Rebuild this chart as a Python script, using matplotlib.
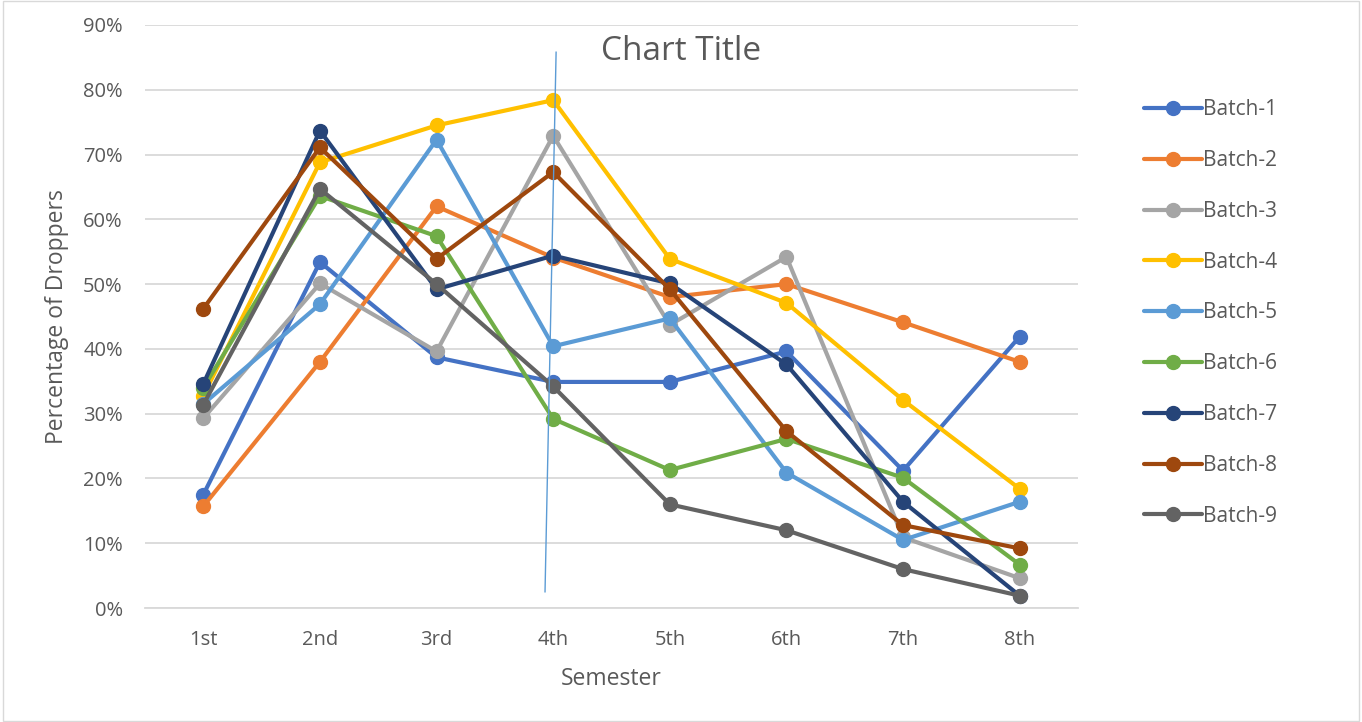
import matplotlib.pyplot as plt
from matplotlib.patches import Rectangle

plt.rcParams['font.family'] = ['Open Sans', 'DejaVu Sans']

semesters = ['1st', '2nd', '3rd', '4th', '5th', '6th', '7th', '8th']

# drop-out percentage per semester, one list per batch
batch_1 = [17.5, 53.4, 38.7, 34.9, 34.9, 39.6, 21.2, 41.9]
batch_2 = [15.7, 38.0, 62.0, 54.1, 48.0, 50.0, 44.1, 38.0]
batch_3 = [29.3, 50.1, 39.6, 72.9, 43.7, 54.2, 10.9, 4.6]
batch_4 = [32.8, 68.8, 74.5, 78.4, 53.9, 47.1, 32.1, 18.4]
batch_5 = [31.5, 46.9, 72.3, 40.4, 44.7, 20.9, 10.5, 16.4]
batch_6 = [34.0, 63.6, 57.4, 29.2, 21.3, 26.1, 20.1, 6.7]
batch_7 = [34.6, 73.7, 49.2, 54.4, 50.1, 37.6, 16.4, 1.9]
batch_8 = [46.2, 71.1, 53.9, 67.3, 49.2, 27.3, 12.8, 9.2]
batch_9 = [31.4, 64.7, 50.0, 34.2, 16.0, 12.0, 6.0, 1.9]

series = [batch_1, batch_2, batch_3, batch_4, batch_5,
          batch_6, batch_7, batch_8, batch_9]
labels = ['Batch-%d' % (i + 1) for i in range(len(series))]
colors = ['#4472C4', '#ED7D31', '#A5A5A5', '#FFC000', '#5B9BD5',
          '#70AD47', '#264478', '#9E480E', '#636363']

text_color = '#595959'

fig = plt.figure(figsize=(13.62, 7.22), dpi=100)
ax = fig.add_axes([145 / 1362, 1 - 608 / 722, (1078 - 145) / 1362, (608 - 25) / 722])

x = list(range(1, len(semesters) + 1))
for vals, lab, col in zip(series, labels, colors):
    ax.plot(x, vals, color=col, linewidth=3, marker='o', markersize=10,
            label=lab, solid_capstyle='round', zorder=3)

ax.set_xlim(0.5, len(semesters) + 0.5)
ax.set_ylim(0, 90)
ax.set_xticks(x)
ax.set_xticklabels(semesters)
ax.set_yticks(range(0, 91, 10))
ax.set_yticklabels(['%d%%' % v for v in range(0, 91, 10)])
ax.tick_params(axis='both', length=0, labelsize=14.5, colors=text_color)
ax.tick_params(axis='x', pad=16)
ax.tick_params(axis='y', pad=16)
ax.grid(axis='y', color='#d9d9d9', linewidth=1.3)
ax.set_axisbelow(True)
for s in ['top', 'right', 'left']:
    ax.spines[s].set_visible(False)
ax.spines['bottom'].set_color('#d9d9d9')
ax.spines['bottom'].set_linewidth(1.3)

ax.set_xlabel('Semester', fontsize=16.5, color=text_color, labelpad=12)
ax.set_ylabel('Percentage of Droppers', fontsize=16.5, color=text_color, labelpad=10)

fig.text(0.5, 1 - 51 / 722, 'Chart Title', ha='center', va='center',
         fontsize=24, color=text_color)

# hand-drawn marker line near the 4th semester
ax.plot([4.025, 3.93], [85.8, 2.5], color='#5B9BD5', linewidth=1, zorder=4)

leg = fig.legend(loc='upper left', bbox_to_anchor=(1136 / 1362, 1 - 91 / 722),
                 frameon=False, fontsize=15, handlelength=2.75,
                 labelspacing=1.43, handletextpad=0.05, borderaxespad=0)
for t in leg.get_texts():
    t.set_color(text_color)

fig.patches.append(Rectangle((0.002, 0.002), 0.996, 0.996, transform=fig.transFigure,
                             fill=False, edgecolor='#d9d9d9', linewidth=1))

fig.savefig('out.png', dpi=100)
